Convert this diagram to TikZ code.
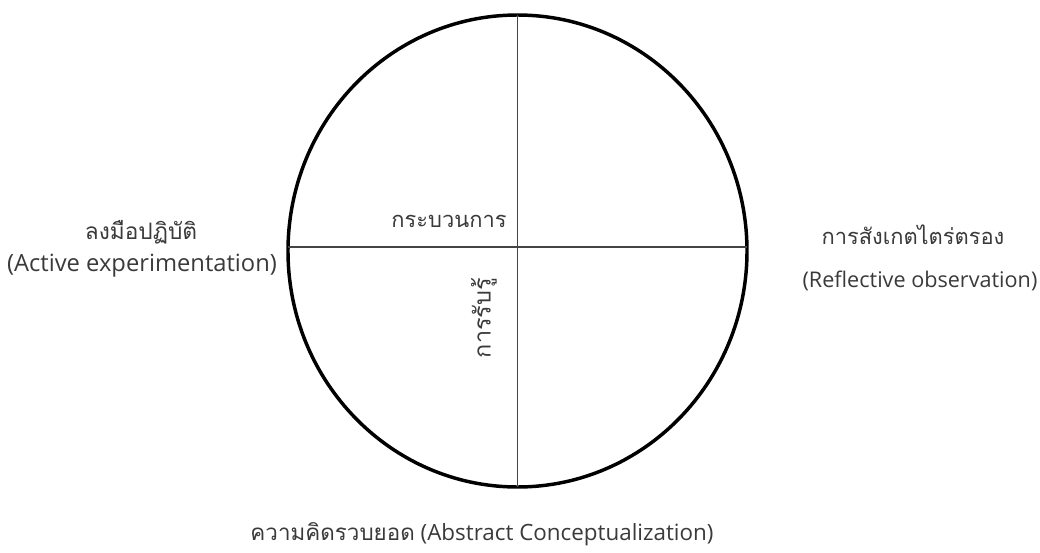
\documentclass[tikz,border=0pt]{standalone}
\usepackage{fontspec}
\setmainfont{Open Sans}
\newfontfamily\thaifont[Script=Thai]{Loma}
\usepackage{tikz}
\usetikzlibrary{positioning,shapes.geometric}
\definecolor{ink}{HTML}{3A3A3A}
\definecolor{axis}{HTML}{444444}
\tikzset{
  lbl/.style={text=ink,inner sep=1pt},
  ring/.style={draw=black,ellipse,line width=2.6pt,minimum width=344.25pt,minimum height=354pt,inner sep=0pt,outer sep=0pt},
  cross/.style={axis,line width=1.1pt}
}
\newcommand{\fs}[1]{\fontsize{#1}{#1}\selectfont}
\begin{document}
\begin{tikzpicture}[x=0.75pt,y=-0.75pt]
  \useasboundingbox (0,0) rectangle (1040,553);
  \node[ring] (wheel) at (517.5,251) {};
  \draw[cross] (wheel.north) -- (wheel.south);
  \draw[cross] ([yshift=3pt]wheel.west) -- ([yshift=3pt]wheel.east);
  % left side
  \node[lbl,font=\fs{17}\thaifont] (doTh) at (141,232) {ลงมือปฏิบัติ};
  \node[lbl,font=\fs{17.8}] (doEn) at (142,266) {(Active experimentation)};
  % right side
  \node[lbl,font=\fs{16.4}\thaifont] (watchTh) at (913,235) {การสังเกตไตร่ตรอง};
  \node[lbl,font=\fs{16.2}] (watchEn) at (920,281) {(Reflective observation)};
  % inside
  \node[lbl,font=\fs{16.4}\thaifont] (process) at (449,221) {กระบวนการ};
  \node[lbl,font=\fs{17.6}\thaifont,rotate=90] (perceive) at (484,318) {การรับรู้};
  % bottom
  \node[lbl,font=\fs{16.8}] (think) at (482,534) {{\thaifont ความคิดรวบยอด} (Abstract Conceptualization)};
\end{tikzpicture}
\end{document}
